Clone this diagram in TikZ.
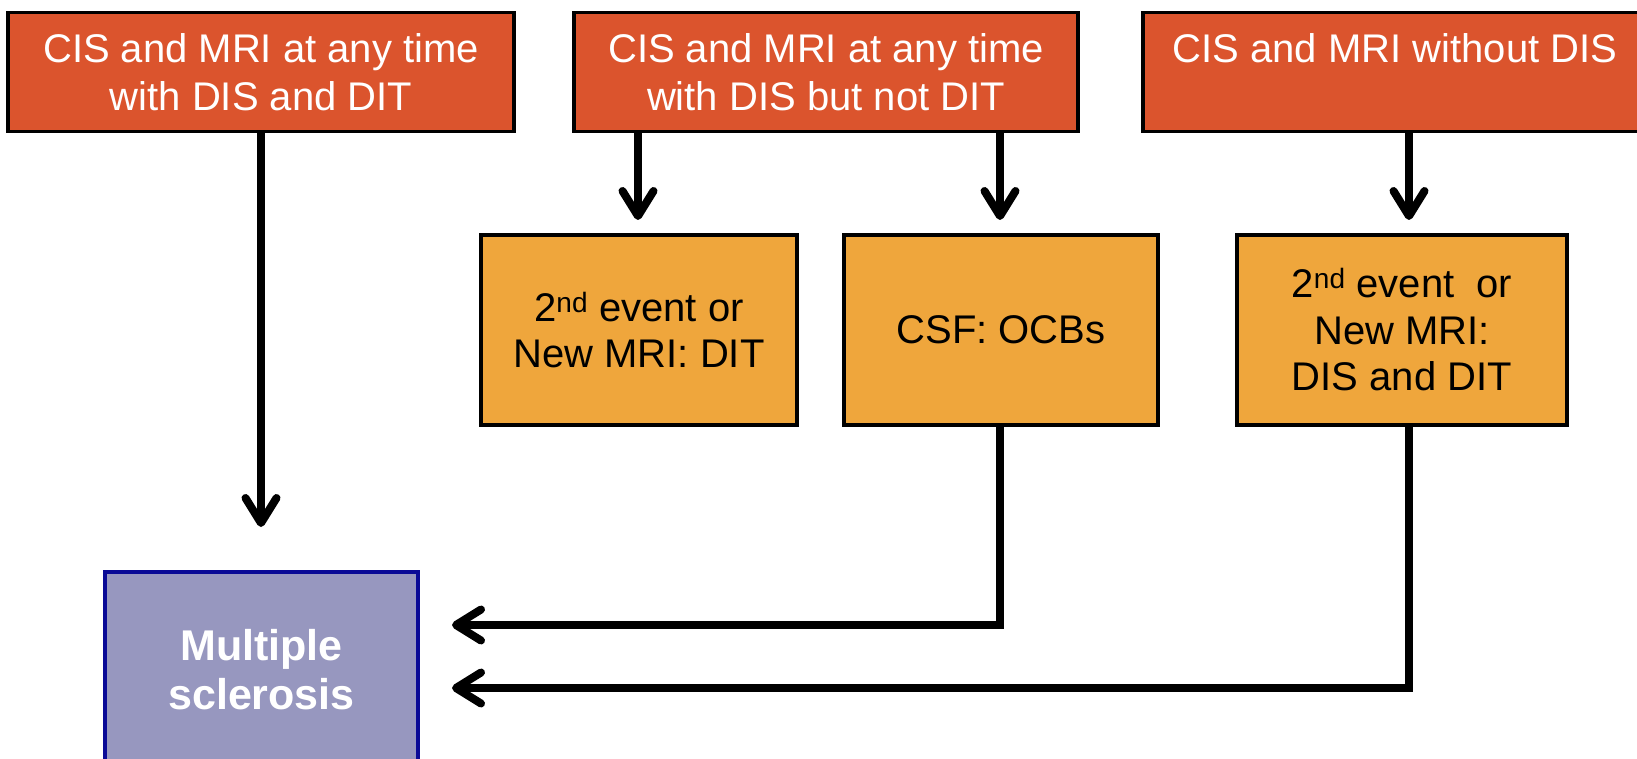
\documentclass[tikz,border=0pt]{standalone}
\usepackage{fontspec}
\setmainfont{Liberation Sans}
\usetikzlibrary{arrows.meta}
\definecolor{topred}{RGB}{219,84,45}
\definecolor{midorange}{RGB}{239,166,60}
\definecolor{mspurple}{RGB}{151,151,191}
\definecolor{msblue}{RGB}{10,10,150}
\begin{document}
\begin{tikzpicture}[x=1pt,y=-1pt,
  topbox/.style={draw=black, line width=3.5pt, fill=topred, text=white, align=center,
    minimum height=119pt, inner sep=0pt, font=\fontsize{40}{48}\selectfont},
  midbox/.style={draw=black, line width=3.5pt, fill=midorange, text=black, align=center,
    minimum height=190pt, inner sep=0pt, font=\fontsize{40}{46.5}\selectfont},
  msbox/.style={draw=msblue, line width=3.5pt, fill=mspurple, text=white, align=center,
    inner sep=0pt, font=\fontsize{43}{49}\selectfont\bfseries},
  conn/.style={line width=8pt, -{Straight Barb[length=25pt,width=31pt,round]}}
]
\useasboundingbox (0,0) rectangle (1637,759);
\node[topbox, minimum width=506pt] (b1) at (261,72) {CIS and MRI at any time\\with DIS and DIT};
\node[topbox, minimum width=504pt] (b2) at (826,72) {CIS and MRI at any time\\with DIS but not DIT};
\node[topbox, minimum width=504pt] (b3) at (1395,72) {CIS and MRI without DIS\\\phantom{with DIS and DIT}};

\node[midbox, minimum width=316pt] (b4) at (639,330) {2\textsuperscript{nd} event or\\New MRI: DIT};
\node[midbox, minimum width=314pt] (b5) at (1001,330) {CSF: OCBs};
\node[midbox, minimum width=330pt] (b6) at (1402,330) {2\textsuperscript{nd} event\ \ or\\New MRI:\\DIS and DIT};
\node[msbox, minimum width=313pt, minimum height=196pt] (ms) at (261.5,670) {Multiple\\sclerosis};

\coordinate (e1) at (261,527);
\coordinate (e2) at (638,220);
\coordinate (e3) at (1000,220);
\coordinate (e4) at (1409,220);
\coordinate (k1) at (1000,625);
\coordinate (k2) at (1409,688);
\coordinate (t1) at (452,625);
\coordinate (t2) at (452,688);

\draw[conn] (b1.south) -- (e1);
\draw[conn] (b2.south -| e2) -- (e2);
\draw[conn] (b2.south -| e3) -- (e3);
\draw[conn] (b3.south -| e4) -- (e4);
\draw[conn, line join=miter] (b5.south -| k1) -- (k1) -- (t1);
\draw[conn, line join=miter] (b6.south -| k2) -- (k2) -- (t2);
\end{tikzpicture}
\end{document}
